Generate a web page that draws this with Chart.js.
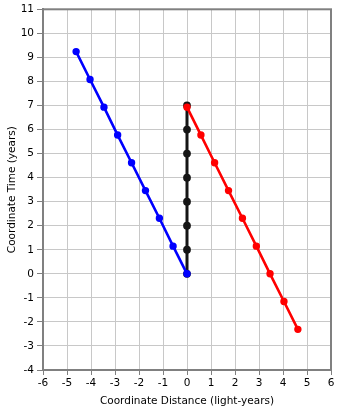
<!DOCTYPE html>
<html>
<head>
<meta charset="utf-8">
<script src="https://cdn.jsdelivr.net/npm/chart.js@4.4.1/dist/chart.umd.min.js"></script>
<style>
  html, body { margin: 0; padding: 0; background: #fff; }
  #wrap { width: 341px; height: 408px; }
</style>
</head>
<body>
<div id="wrap"><canvas id="chart" width="341" height="408"></canvas></div>
<script>
// outbound traveller (moves to negative x)
const blueX = [0, -0.58, -1.15, -1.73, -2.31, -2.89, -3.46, -4.04, -4.62];
const blueT = [0, 1.15, 2.31, 3.46, 4.62, 5.77, 6.93, 8.08, 9.24];

// stay-at-home clock on x = 0
const blackX = [0, 0, 0, 0, 0, 0, 0, 0];
const blackT = [0, 1, 2, 3, 4, 5, 6, 7];

// second traveller line
const redX = [0, 0.58, 1.15, 1.73, 2.31, 2.89, 3.46, 4.04, 4.62];
const redT = [6.93, 5.77, 4.62, 3.46, 2.31, 1.15, 0, -1.15, -2.31];

const xTicks = [-6, -5, -4, -3, -2, -1, 0, 1, 2, 3, 4, 5, 6];
const yTicks = [-4, -3, -2, -1, 0, 1, 2, 3, 4, 5, 6, 7, 8, 9, 10, 11];

function pts(xs, ts) {
    return xs.map((x, i) => ({ x: x, y: ts[i] }));
}

function series(xs, ts, color, width) {
    return {
        data: pts(xs, ts),
        borderColor: color,
        backgroundColor: color,
        borderWidth: width,
        pointRadius: 2.4,
        pointHoverRadius: 2.4,
        showLine: true,
        tension: 0
    };
}

// grey frame around the plotting area
const frame = {
    id: 'frame',
    afterDraw(chart) {
        const a = chart.chartArea;
        const c = chart.ctx;
        c.save();
        c.strokeStyle = '#808080';
        c.lineWidth = 2;
        c.strokeRect(a.left, a.top, a.right - a.left, a.bottom - a.top);
        c.restore();
    }
};

const font = { family: 'DejaVu Sans', size: 10.5 };

new Chart(document.getElementById('chart'), {
    type: 'scatter',
    data: {
        datasets: [
            series(blueX, blueT, '#0000ff', 2.6),
            series(redX, redT, '#ff0000', 2.6),
            series(blackX, blackT, '#151515', 3)
        ]
    },
    options: {
        responsive: false,
        animation: false,
        layout: { padding: { top: 6, right: 10, left: 0, bottom: 0 } },
        plugins: {
            legend: { display: false },
            tooltip: { enabled: false }
        },
        scales: {
            x: {
                type: 'linear',
                min: -6,
                max: 6,
                afterBuildTicks(s) { s.ticks = xTicks.map(v => ({ value: v })); },
                afterFit(s) { s.height = 38; },
                grid: { color: '#c8c8c8', tickColor: '#808080', tickLength: 5 },
                border: { color: '#808080', width: 2 },
                ticks: { color: '#000', font: font, padding: 2, maxRotation: 0 },
                title: { display: true, text: 'Coordinate Distance (light-years)', color: '#000', font: font, padding: { top: 1, bottom: 0 } }
            },
            y: {
                type: 'linear',
                min: -4,
                max: 11,
                afterBuildTicks(s) { s.ticks = yTicks.map(v => ({ value: v })); },
                afterFit(s) { s.width = 43; },
                grid: { color: '#c8c8c8', tickColor: '#808080', tickLength: 6 },
                border: { color: '#808080', width: 2 },
                ticks: { color: '#000', font: font, padding: 3 },
                title: { display: true, text: 'Coordinate Time (years)', color: '#000', font: font, padding: { top: 6, bottom: 0 } }
            }
        }
    },
    plugins: [frame]
});
</script>
</body>
</html>
